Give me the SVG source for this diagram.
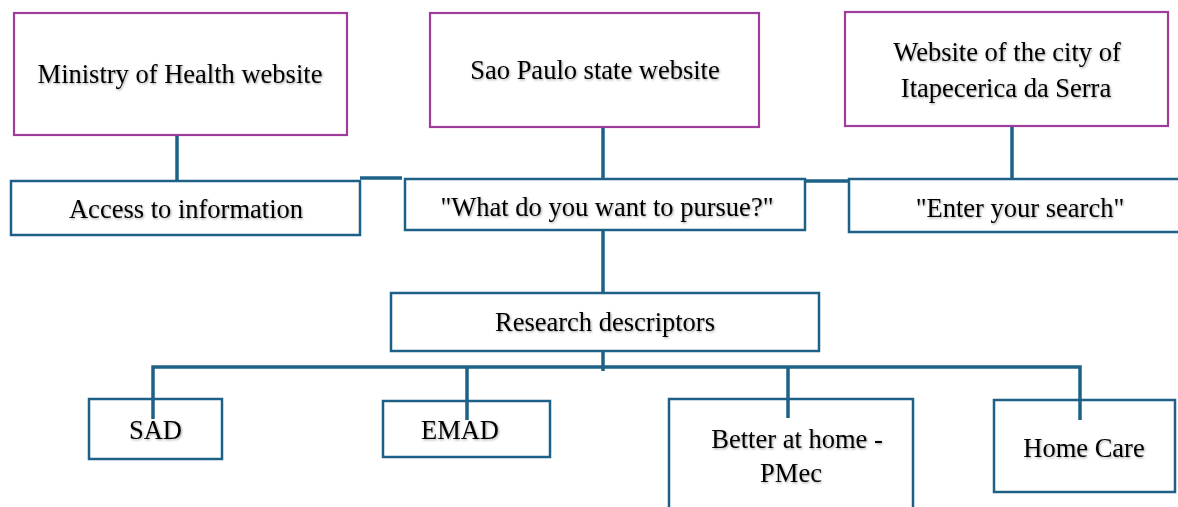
<svg xmlns="http://www.w3.org/2000/svg" width="1178" height="507" viewBox="0 0 1178 507">
<defs>
<filter id="shadow" x="-5%" y="-20%" width="110%" height="150%">
<feDropShadow dx="1" dy="1.2" stdDeviation="0.8" flood-color="#000" flood-opacity="0.35"/>
</filter>
<style>
.src{fill:#fff;stroke:#a03c9c;stroke-width:2.2}
.box{fill:#fff;stroke:#1d6187;stroke-width:2.5}
.lbl{font-family:"Liberation Serif","Times New Roman",serif;font-size:26.5px;fill:#000;text-anchor:middle;filter:url(#shadow)}
.conn{stroke:#1d6187;stroke-width:3.5;fill:none}
</style>
</defs>
<rect width="1178" height="507" fill="#fff"/>
<g id="ministry">
<rect class="src" x="14" y="13" width="333" height="122"/>
<text class="lbl" x="180" y="83">Ministry of Health website</text>
</g>
<g id="saopaulo">
<rect class="src" x="430" y="13" width="329" height="114"/>
<text class="lbl" x="595" y="79">Sao Paulo state website</text>
</g>
<g id="itapecerica">
<rect class="src" x="845" y="12" width="323" height="114"/>
<text class="lbl" x="1007" y="61">Website of the city of</text>
<text class="lbl" x="1006" y="97">Itapecerica da Serra</text>
</g>
<g id="access">
<rect class="box" x="11" y="181" width="349" height="54"/>
<text class="lbl" x="186" y="218">Access to information</text>
</g>
<g id="pursue">
<rect class="box" x="405" y="179" width="400" height="51"/>
<text class="lbl" x="607" y="216">"What do you want to pursue?"</text>
</g>
<g id="search">
<rect class="box" x="849" y="179" width="340" height="53"/>
<text class="lbl" x="1020" y="217">"Enter your search"</text>
</g>
<g id="research">
<rect class="box" x="391" y="293" width="428" height="58"/>
<text class="lbl" x="605" y="331">Research descriptors</text>
</g>
<g id="sad">
<rect class="box" x="89" y="399" width="133" height="60"/>
<text class="lbl" x="155.5" y="439">SAD</text>
</g>
<g id="emad">
<rect class="box" x="383" y="401" width="167" height="56"/>
<text class="lbl" x="460" y="439">EMAD</text>
</g>
<g id="pmec">
<rect class="box" x="669" y="399" width="244" height="115"/>
<text class="lbl" x="797" y="448">Better at home -</text>
<text class="lbl" x="791" y="482">PMec</text>
</g>
<g id="homecare">
<rect class="box" x="994" y="400" width="181" height="92"/>
<text class="lbl" x="1084" y="457">Home Care</text>
</g>
<g id="connectors">
<line class="conn" x1="177" y1="136" x2="177" y2="180"/>
<line class="conn" x1="603" y1="128" x2="603" y2="178"/>
<line class="conn" x1="1012" y1="127" x2="1012" y2="178"/>
<line class="conn" x1="360" y1="178" x2="402" y2="178"/>
<line class="conn" x1="805" y1="181" x2="849" y2="181"/>
<line class="conn" x1="603" y1="231" x2="603" y2="292"/>
<line class="conn" x1="603" y1="352" x2="603" y2="371"/>
<polyline class="conn" points="153,419 153,367 1080,367 1080,420"/>
<line class="conn" x1="467" y1="367" x2="467" y2="420"/>
<line class="conn" x1="788" y1="367" x2="788" y2="418"/>
</g>
</svg>
